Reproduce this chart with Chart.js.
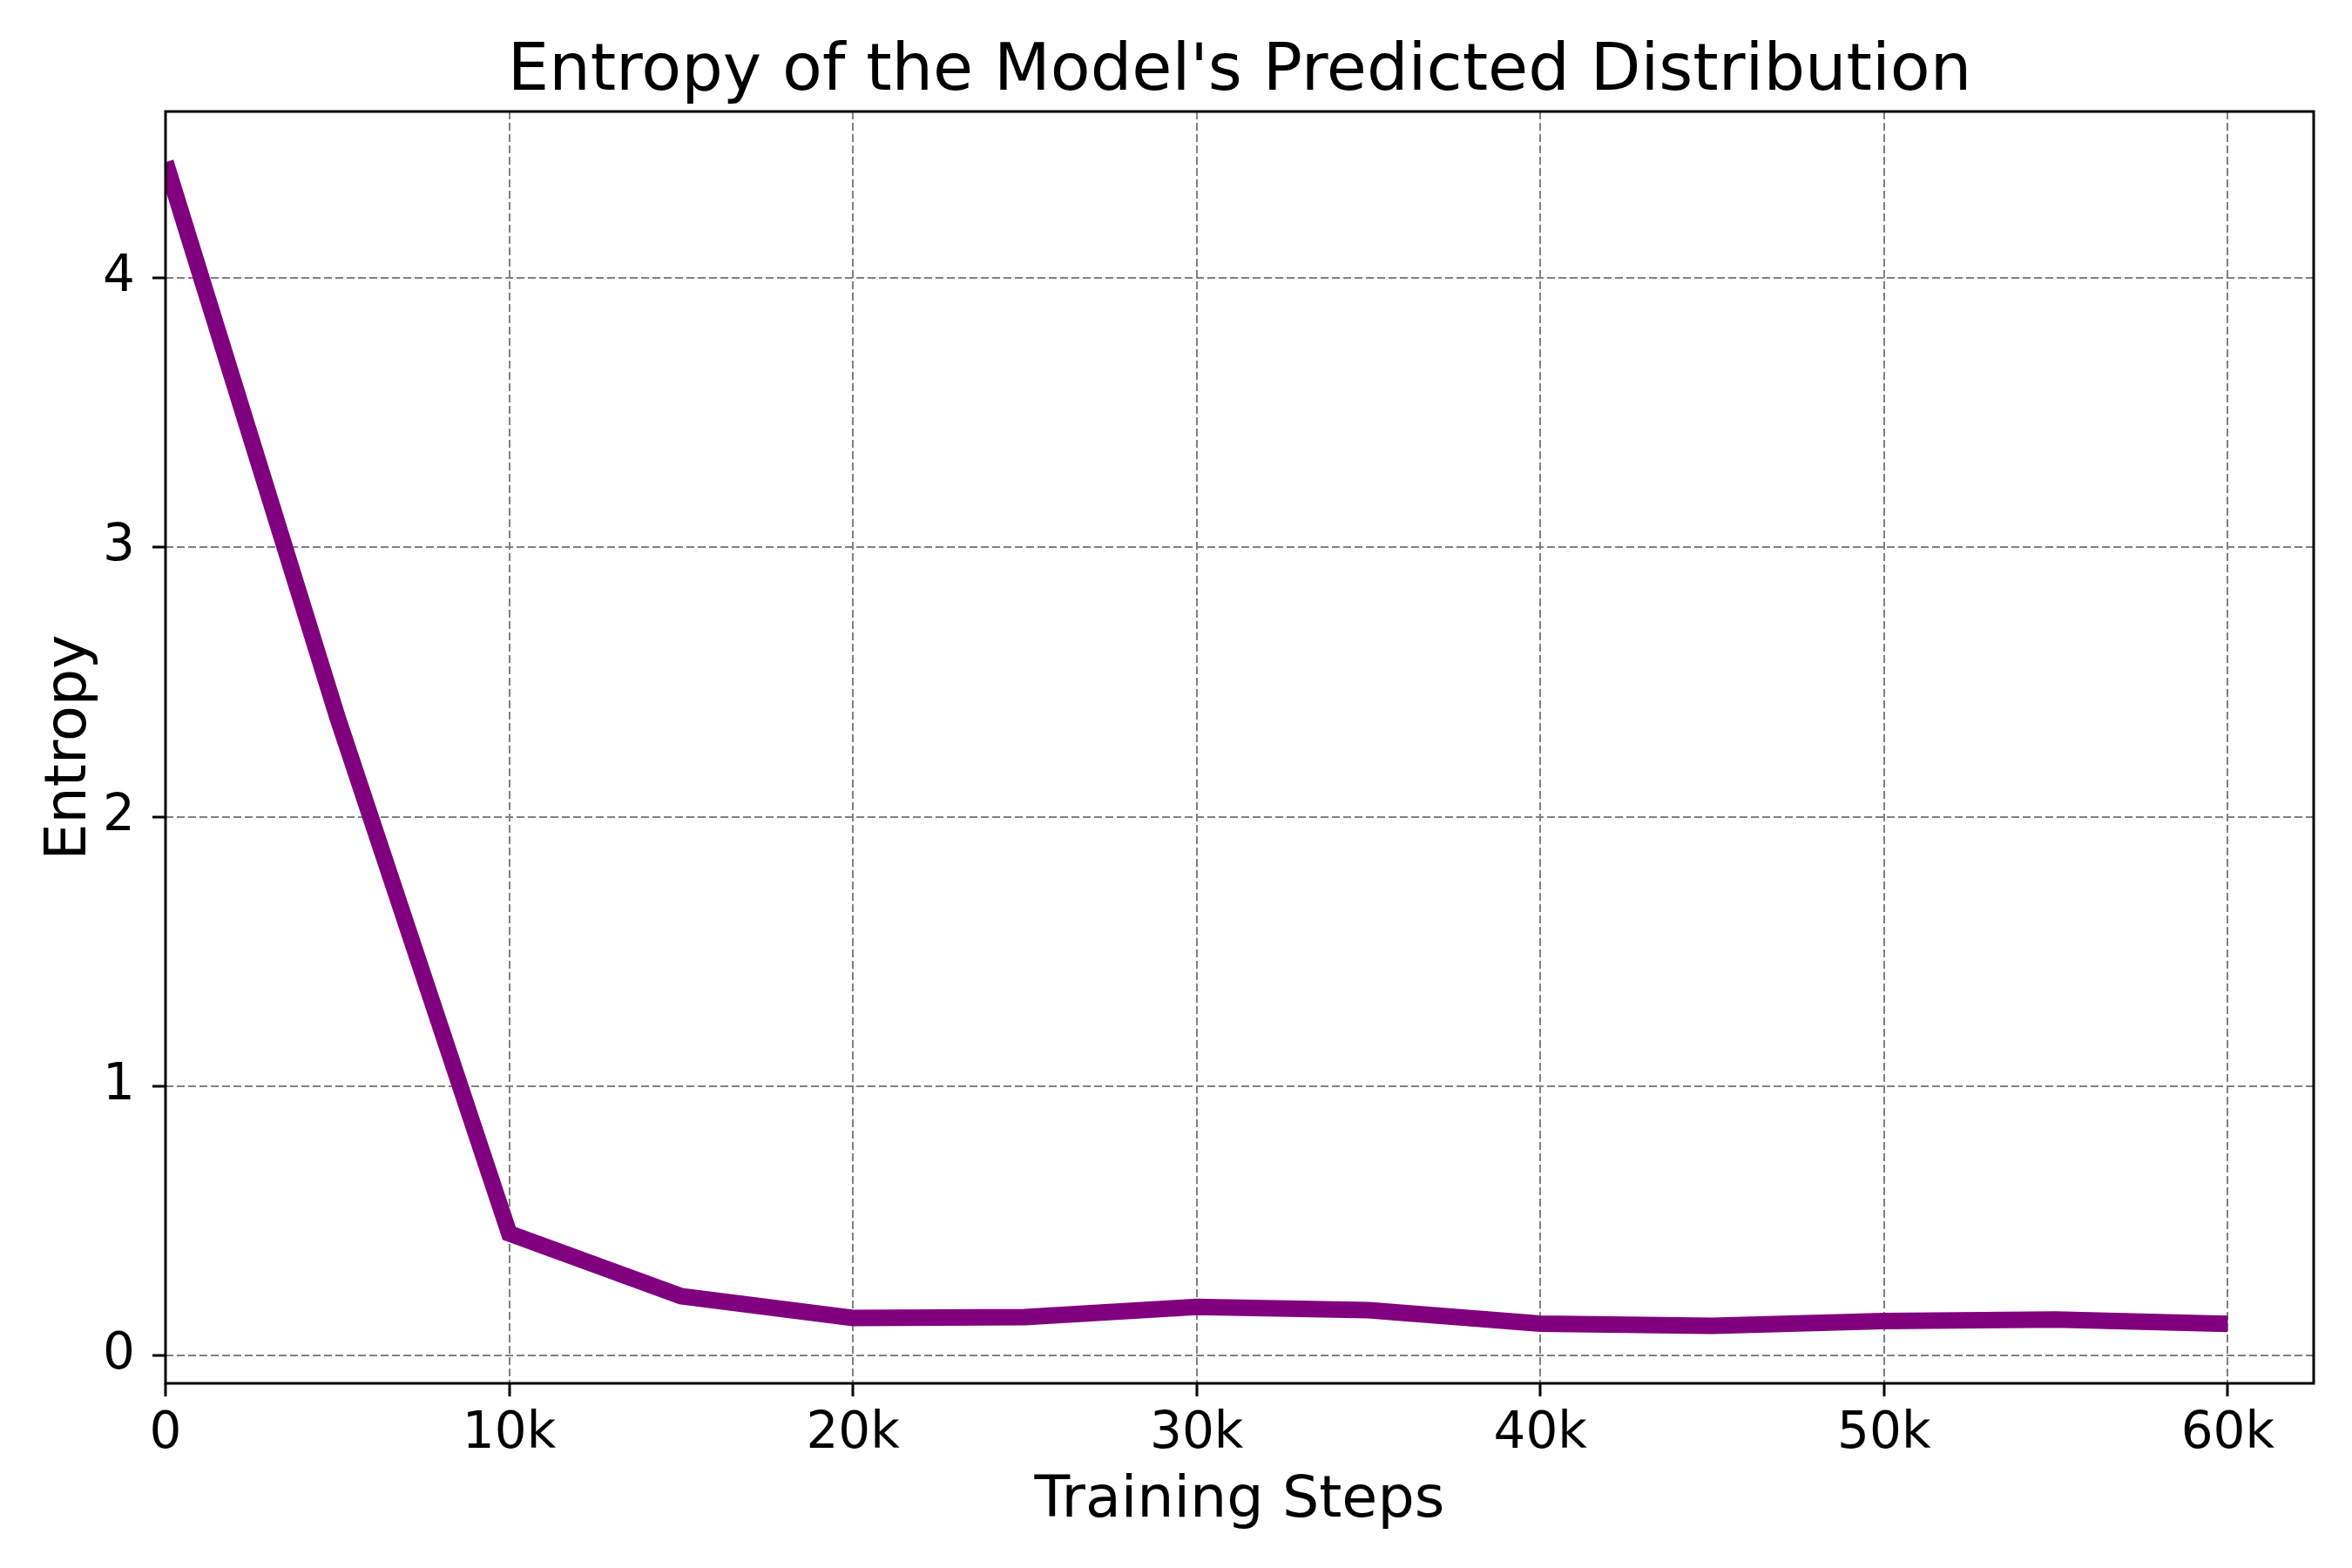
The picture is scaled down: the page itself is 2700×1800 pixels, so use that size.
<!DOCTYPE html>
<html>
<head>
<meta charset="utf-8">
<script src="https://cdn.jsdelivr.net/npm/chart.js@4/dist/chart.umd.min.js"></script>
<style>
  html, body { margin: 0; padding: 0; background: #ffffff; }
  #wrap { width: 2700px; height: 1800px; }
</style>
</head>
<body>
<div id="wrap"><canvas id="c" width="2700" height="1800"></canvas></div>
<script>
// ---- data ----
const steps = [0, 5000, 10000, 15000, 20000, 25000, 30000, 35000, 40000, 45000, 50000, 55000, 60000];
const entropy = [4.43, 2.37, 0.453, 0.220, 0.139, 0.142, 0.180, 0.168, 0.118, 0.110, 0.128, 0.133, 0.117];
const xTickValues = [0, 10000, 20000, 30000, 40000, 50000, 60000];
const yTickValues = [0, 1, 2, 3, 4];
const titleText = "Entropy of the Model's Predicted Distribution";
const xLabel = "Training Steps";
const yLabel = "Entropy";

const FONT = "'DejaVu Sans', 'Liberation Sans', sans-serif";

// frame around the plot area + title centred over the plot area
const framePlugin = {
  id: 'frame',
  afterDatasetsDraw(chart) {
    const {ctx, chartArea: a} = chart;
    ctx.save();
    ctx.strokeStyle = '#000000';
    ctx.lineWidth = 3;
    ctx.strokeRect(a.left, a.top, a.right - a.left, a.bottom - a.top);
    ctx.restore();
  },
  afterDraw(chart) {
    const {ctx, chartArea: a} = chart;
    ctx.save();
    ctx.fillStyle = '#000000';
    ctx.font = "75px " + FONT;
    ctx.textAlign = 'center';
    ctx.textBaseline = 'alphabetic';
    ctx.fillText(titleText, (a.left + a.right) / 2, a.top - 25);
    ctx.restore();
  }
};

const gridCommon = {
  color: '#808080',
  lineWidth: 2,
  tickColor: '#000000',
  tickWidth: 3,
  tickLength: 15,
  drawTicks: true
};

new Chart(document.getElementById('c'), {
  type: 'line',
  data: {
    datasets: [{
      data: steps.map((s, i) => ({x: s, y: entropy[i]})),
      borderColor: '#800080',
      borderWidth: 19,
      borderCapStyle: 'butt',
      borderJoinStyle: 'miter',
      pointRadius: 0,
      pointHoverRadius: 0,
      fill: false,
      tension: 0,
      clip: 0
    }]
  },
  options: {
    responsive: false,
    animation: false,
    devicePixelRatio: 1,
    layout: { padding: { left: 0, right: 44, top: 128, bottom: 0 } },
    plugins: {
      legend: { display: false },
      tooltip: { enabled: false },
      title: { display: false }
    },
    scales: {
      x: {
        type: 'linear',
        min: 0,
        max: 62500,
        afterBuildTicks: (scale) => { scale.ticks = xTickValues.map(v => ({value: v})); },
        afterFit: (scale) => { scale.height = 212; },
        grid: gridCommon,
        border: { display: false, dash: [9, 4] },
        ticks: {
          color: '#000000',
          font: { family: FONT, size: 58, lineHeight: 1.2 },
          padding: 9,
          maxRotation: 0,
          autoSkip: false,
          callback: (v) => v === 0 ? '0' : (v / 1000) + 'k'
        },
        title: {
          display: true,
          text: xLabel,
          color: '#000000',
          font: { family: FONT, size: 66.7, lineHeight: 1.2 },
          padding: { top: 0, bottom: 36 }
        }
      },
      y: {
        type: 'linear',
        min: -0.1035,
        max: 4.618,
        afterBuildTicks: (scale) => { scale.ticks = yTickValues.map(v => ({value: v})); },
        afterFit: (scale) => { scale.width = 190; },
        grid: gridCommon,
        border: { display: false, dash: [9, 4] },
        ticks: {
          color: '#000000',
          font: { family: FONT, size: 58, lineHeight: 1.2 },
          padding: 20,
          autoSkip: false,
          callback: (v) => String(v)
        },
        title: {
          display: true,
          text: yLabel,
          color: '#000000',
          font: { family: FONT, size: 66.7, lineHeight: 1.2 },
          padding: { top: 41, bottom: 0 }
        }
      }
    }
  },
  plugins: [framePlugin]
});
</script>
</body>
</html>
